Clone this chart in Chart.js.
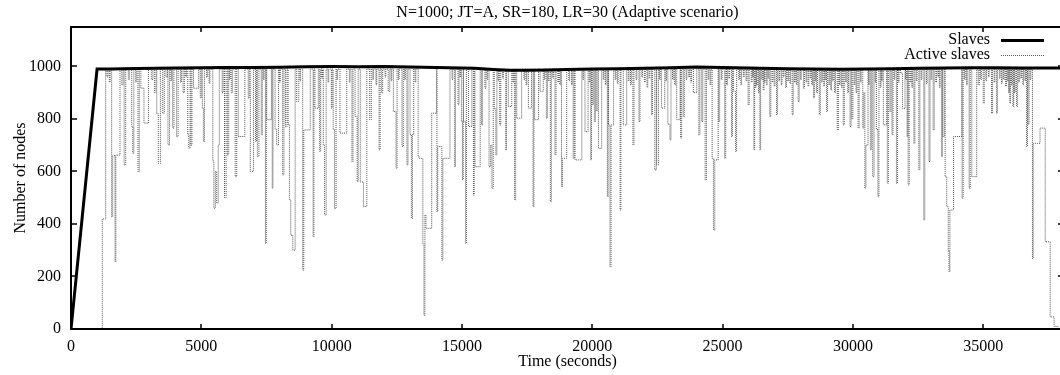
<!DOCTYPE html>
<html><head><meta charset="utf-8">
<script src="https://cdn.jsdelivr.net/npm/chart.js@4.4.0/dist/chart.umd.min.js"></script>
<style>
html,body{margin:0;padding:0;background:#fff;overflow:hidden;}
#wrap{width:1068px;height:375px;}
canvas{display:block;}
</style></head><body>
<div id="wrap"><canvas id="c" width="1068" height="375"></canvas></div>
<script>
const chartTitle = "N=1000; JT=A, SR=180, LR=30 (Adaptive scenario)";
const xAxisTitle = "Time (seconds)";
const yAxisTitle = "Number of nodes";
const seriesNames = ["Slaves", "Active slaves"];
const xTicks = [0, 5000, 10000, 15000, 20000, 25000, 30000, 35000];
const yTicks = [0, 200, 400, 600, 800, 1000];
const xMax = 38100, yMax = 1150;

const slavesTime = [0,1000,1500,2500,4000,5000,6000,7000,8000,9000,
  10000,11000,12000,12500,13500,14500,15500,16200,16800,17500,
  18300,19000,20000,21000,22000,23000,24000,24500,25500,26500,
  27500,28500,29500,30500,31500,32500,33500,34500,35500,36500,
  37500,38100];
const slavesNodes = [0,990,990,992,994,995,996,996,997,999,
  1000,999,1000,999,997,995,993,988,985,985,
  986,988,990,991,993,995,998,997,995,993,
  991,990,989,990,991,993,994,995,995,994,
  994,994];

// Active slaves: level between dips, and dips as [start s, duration s, active nodes]
const activeBase = 990;
const activeDipsA = [[0,1200,0],[1200,130,419],[1380,40,960],[1470,30,940],[1560,40,427],[1600,90,660],[1690,30,256],[1720,160,662],[1950,50,930],[2040,60,625],[2200,40,950],[2330,40,771],[2370,40,669],[2480,40,940],[2570,50,599],[2680,120,917],[2800,170,784],[3080,60,950],[3200,60,900],[3290,60,820],[3350,80,631],[3520,60,822],[3640,60,960],[3720,60,701],[3830,30,945],[3900,50,765],[4050,60,733],[4200,40,940],[4300,50,900],[4400,30,960],[4480,40,739],[4520,50,688],[4600,40,700],[4700,200,917],[4960,40,880],[5040,40,840],[5080,40,714],[5200,40,960],[5300,30,935],[5440,40,640],[5480,60,460],[5540,50,600],[5590,60,480],[5650,40,700],[5800,40,900],[5890,60,500],[6000,50,663],[6080,30,950],[6150,50,900],[6300,60,580],[6420,250,733]];
const activeDipsB = [[6800,40,879],[6880,120,600],[7080,40,714],[7150,60,657],[7300,40,739],[7380,30,950],[7460,30,326],[7510,180,797],[7720,30,536],[7830,60,760],[7890,70,701],[8000,30,940],[8120,50,587],[8230,60,770],[8330,50,780],[8380,50,491],[8430,80,357],[8510,90,300],[8660,80,866],[8780,30,945],[8890,40,224],[8930,250,758],[9290,30,351],[9360,130,841],[9540,40,676],[9620,30,955],[9680,50,700],[9730,60,434],[9860,30,940],[9990,30,841],[10060,50,760],[10110,60,459],[10200,30,950],[10320,260,746],[10680,30,940],[10780,40,637],[10900,80,809],[10980,40,561],[11100,120,560],[11220,130,466],[11460,60,797],[11580,30,950],[11700,30,930],[11820,40,682],[11920,40,900],[12050,30,960],[12170,60,905],[12280,30,945],[12370,100,828],[12470,40,612],[12560,30,950]];
const activeDipsC = [[12700,50,695],[12800,30,950],[12890,40,625],[13010,50,740],[13060,40,421],[13100,50,740],[13200,30,940],[13320,30,657],[13350,150,650],[13500,40,326],[13540,40,52],[13580,40,434],[13620,220,383],[13840,190,822],[14040,30,447],[14070,160,695],[14230,40,262],[14270,270,650],[14620,30,950],[14720,30,618],[14850,40,854],[14920,30,960],[14980,40,790],[15020,30,568],[15060,80,790],[15140,30,326],[15250,130,771],[15440,30,510],[15500,200,618],[15750,40,777],[15880,40,917],[15960,30,950],[16040,60,618],[16100,50,700],[16150,50,536],[16240,60,840],[16300,40,663],[16380,30,945],[16450,40,777],[16560,30,955],[16680,30,682],[16780,130,847],[16950,30,940],[17020,40,491],[17100,190,803],[17380,30,950],[17460,30,930],[17550,120,841],[17730,30,466],[17790,150,797],[18000,120,905],[18160,30,950],[18240,40,803],[18310,30,945],[18390,40,485],[18480,30,955],[18570,40,663],[18680,30,940],[18750,30,930],[18820,40,542],[18860,160,650]];
const activeDipsD = [[19100,30,945],[19200,30,930],[19270,40,650],[19340,260,644],[19640,30,950],[19720,120,752],[19880,30,940],[19940,30,644],[20000,40,854],[20080,40,790],[20150,40,830],[20240,120,688],[20420,30,950],[20500,30,930],[20580,30,504],[20620,60,777],[20680,40,237],[20720,100,777],[20880,30,950],[20960,30,935],[21070,30,453],[21190,130,777],[21380,30,945],[21470,30,930],[21560,40,701],[21680,30,950],[21790,40,790],[21900,30,960],[22000,30,940],[22100,30,920],[22180,30,955],[22270,40,816],[22400,60,606],[22470,70,625],[22580,30,950],[22660,120,841],[22820,30,945],[22900,80,780],[22980,40,720],[23080,30,950],[23160,30,930],[23240,130,797],[23390,40,727],[23490,40,809],[23600,30,950],[23700,30,960],[23780,30,940],[23880,130,900],[24090,40,739],[24200,40,790],[24330,50,568],[24440,30,950],[24520,30,930],[24600,50,650],[24650,50,377],[24700,130,644],[24850,40,790],[24950,30,950],[25080,40,650],[25150,40,930],[25240,30,955]];
const activeDipsE = [[25340,40,733],[25420,80,905],[25500,40,676],[25620,30,950],[25700,30,930],[25800,30,960],[25900,30,945],[25980,40,854],[26100,30,940],[26150,30,960],[26200,30,682],[26260,30,920],[26300,30,930],[26380,30,900],[26430,30,682],[26500,30,950],[26560,30,910],[26600,30,940],[26680,30,930],[26740,30,955],[26810,40,809],[26900,30,940],[26980,30,925],[27070,40,816],[27160,30,945],[27250,30,930],[27330,30,960],[27420,30,920],[27500,30,945],[27580,30,935],[27670,40,816],[27760,30,940],[27830,30,930],[27900,40,866],[27990,30,950],[28100,40,917],[28200,30,940],[28280,30,925],[28360,30,955],[28420,30,930],[28490,40,880],[28550,30,945],[28600,40,900],[28710,40,816],[28800,30,940],[28880,30,925],[28940,30,950],[28990,40,828],[29080,30,930],[29150,30,910],[29220,30,945],[29300,30,900],[29400,40,758],[29480,30,930],[29560,30,920],[29630,40,777],[29720,30,940],[29800,30,900],[29890,40,771],[29960,40,800],[30050,30,930],[30120,30,900],[30200,40,765],[30290,30,940],[30380,40,765],[30420,40,900],[30460,40,536],[30500,80,700],[30600,30,930],[30670,40,682],[30760,50,580],[30850,30,940],[30900,60,760],[30960,40,504],[31050,30,920],[31100,30,945],[31170,130,777],[31320,40,555],[31420,40,828],[31500,40,740],[31580,30,950],[31670,40,555],[31740,30,940]];
const activeDipsF = [[31820,80,975],[31900,100,840],[32020,30,950],[32080,30,733],[32120,40,548],[32200,30,940],[32260,30,920],[32340,40,707],[32430,30,945],[32530,40,606],[32620,30,950],[32720,40,415],[32820,30,935],[32920,40,638],[33000,30,950],[33080,40,758],[33180,30,940],[33260,30,960],[33320,30,920],[33400,40,657],[33450,60,733],[33540,60,580],[33600,60,466],[33660,30,300],[33690,30,218],[33720,140,453],[33860,320,733],[34190,40,498],[34280,30,950],[34360,30,930],[34460,40,536],[34560,190,580],[34810,40,930],[34900,30,950],[35000,40,860],[35100,30,945],[35200,30,960],[35320,40,822],[35420,30,940],[35510,40,822],[35620,30,955],[35700,30,935],[35780,30,950],[35860,30,925],[35920,30,945],[35970,30,900],[36020,30,860],[36080,30,930],[36140,30,847],[36200,30,900],[36280,40,847],[36360,30,940],[36440,30,955],[36520,30,930],[36600,30,945],[36660,40,695],[36720,40,780],[36800,30,950],[36890,30,269],[36920,260,707],[37180,200,765],[37380,190,332],[37570,150,46],[37720,150,10],[37870,230,0]];

const FONT = '"Liberation Serif", "Times New Roman", serif';

const allDips = [].concat(activeDipsA, activeDipsB, activeDipsC, activeDipsD, activeDipsE, activeDipsF)
  .sort((a, b) => a[0] - b[0]);
const activePts = [];
allDips.forEach((d, i) => {
  const s = d[0], e = d[0] + d[1], v = d[2];
  if (i === 0 && s > 0) activePts.push({x: 0, y: activeBase});
  activePts.push({x: s, y: v});
  const next = allDips[i + 1];
  if (!next) activePts.push({x: e, y: v});
  else if (next[0] > e) activePts.push({x: e, y: activeBase});
});
const slavesPts = slavesTime.map((t, i) => ({x: t, y: slavesNodes[i]}));

const framePlugin = {
  id: 'frame',
  afterDraw(chart) {
    const {ctx, chartArea: a, scales: {x, y}} = chart;
    ctx.save();
    ctx.strokeStyle = '#000';
    ctx.setLineDash([]);
    const L = Math.round(a.left), R = Math.round(a.right);
    const T = Math.round(a.top), B = Math.round(a.bottom);
    ctx.lineWidth = 2;
    ctx.strokeRect(L, T, R - L, B - T);
    ctx.lineWidth = 1.5;
    ctx.beginPath();
    xTicks.forEach(v => {
      const px = Math.round(x.getPixelForValue(v));
      ctx.moveTo(px, B); ctx.lineTo(px, B - 5);
      ctx.moveTo(px, T); ctx.lineTo(px, T + 5);
    });
    yTicks.forEach(v => {
      const py = Math.round(y.getPixelForValue(v));
      ctx.moveTo(L, py); ctx.lineTo(L + 6, py);
      ctx.moveTo(R, py); ctx.lineTo(R - 6, py);
    });
    ctx.stroke();
    // title
    ctx.fillStyle = '#000';
    ctx.font = '16px ' + FONT;
    ctx.textAlign = 'center';
    ctx.textBaseline = 'middle';
    ctx.fillText(chartTitle, (a.left + a.right) / 2, 13);
    // legend (gnuplot style: text then sample)
    ctx.textAlign = 'right';
    chart.data.datasets.forEach((ds, i) => {
      const ly = 40 + 15 * i;
      ctx.fillStyle = '#000';
      ctx.fillText(ds.label, 990, ly);
      ctx.beginPath();
      ctx.strokeStyle = ds.borderColor;
      ctx.lineWidth = ds.borderWidth;
      ctx.setLineDash(ds.borderDash || []);
      const yy = ds.borderWidth % 2 ? Math.round(ly) + 0.5 : Math.round(ly);
      ctx.moveTo(1001, yy); ctx.lineTo(1044, yy);
      ctx.stroke();
    });
    ctx.restore();
  }
};

new Chart(document.getElementById('c'), {
  type: 'line',
  data: {
    datasets: [
      {label: seriesNames[0], data: slavesPts, borderColor: '#000', borderWidth: 3,
       pointRadius: 0, tension: 0, order: 0},
      {label: seriesNames[1], data: activePts, borderColor: '#555', borderWidth: 1,
       borderDash: [1, 1], stepped: true, pointRadius: 0, order: 1}
    ]
  },
  options: {
    responsive: false,
    animation: false,
    events: [],
    layout: {padding: {top: 27, right: 4, left: 0, bottom: 0}},
    plugins: {legend: {display: false}, title: {display: false}, tooltip: {enabled: false}},
    scales: {
      x: {
        type: 'linear', min: 0, max: xMax,
        afterBuildTicks: s => { s.ticks = xTicks.map(v => ({value: v})); },
        afterFit: s => { s.height = 46; },
        grid: {display: false, drawTicks: false},
        border: {display: false},
        ticks: {color: '#000', font: {family: FONT, size: 16}, padding: 8,
                maxRotation: 0, autoSkip: false, callback: v => String(v)},
        title: {display: true, text: xAxisTitle, color: '#000',
                font: {family: FONT, size: 16}, padding: {top: 0, bottom: 4}}
      },
      y: {
        type: 'linear', min: 0, max: yMax,
        afterBuildTicks: s => { s.ticks = yTicks.map(v => ({value: v})); },
        afterFit: s => { s.width = 71; },
        grid: {display: false, drawTicks: false},
        border: {display: false},
        ticks: {color: '#000', font: {family: FONT, size: 16}, padding: 10,
                autoSkip: false, callback: v => String(v)},
        title: {display: true, text: yAxisTitle, color: '#000',
                font: {family: FONT, size: 16}, padding: {top: 11, bottom: 0}}
      }
    }
  },
  plugins: [framePlugin]
});
</script>
</body></html>
